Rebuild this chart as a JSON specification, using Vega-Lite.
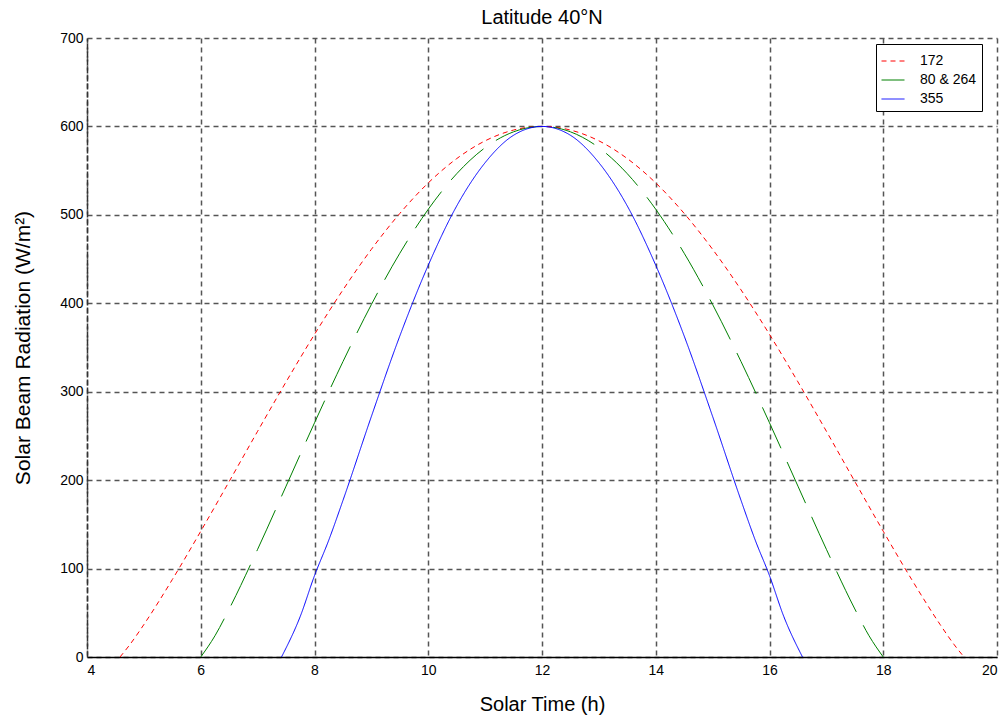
{
  "$schema": "https://vega.github.io/schema/vega-lite/v6.json",
  "width": 910,
  "height": 619,
  "autosize": {"type": "none"},
  "padding": {"left": 87, "top": 38, "right": 11, "bottom": 62},
  "background": "white",
  "title": {"text": "Latitude 40°N", "font": "Liberation Sans", "fontSize": 20, "fontWeight": "normal", "color": "#000", "anchor": "middle", "offset": 3},
  "data": {"values": [
    {"t": 4.58, "v": 0, "s": "172"}, {"t": 4.75, "v": 13.7, "s": "172"}, {"t": 5, "v": 36.7, "s": "172"}, {"t": 5.5, "v": 87.6, "s": "172"}, {"t": 6, "v": 142.2, "s": "172"}, {"t": 6.5, "v": 198.5, "s": "172"}, {"t": 7, "v": 255.3, "s": "172"}, {"t": 7.5, "v": 311.1, "s": "172"}, {"t": 8, "v": 364.8, "s": "172"}, {"t": 8.5, "v": 415.1, "s": "172"}, {"t": 9, "v": 461.0, "s": "172"}, {"t": 9.5, "v": 501.6, "s": "172"}, {"t": 10, "v": 536.1, "s": "172"}, {"t": 10.5, "v": 563.6, "s": "172"}, {"t": 11, "v": 583.7, "s": "172"}, {"t": 11.5, "v": 595.9, "s": "172"}, {"t": 12, "v": 600, "s": "172"},
    {"t": 12.5, "v": 595.9, "s": "172"}, {"t": 13, "v": 583.7, "s": "172"}, {"t": 13.5, "v": 563.6, "s": "172"}, {"t": 14, "v": 536.1, "s": "172"}, {"t": 14.5, "v": 501.6, "s": "172"}, {"t": 15, "v": 461.0, "s": "172"}, {"t": 15.5, "v": 415.1, "s": "172"}, {"t": 16, "v": 364.8, "s": "172"}, {"t": 16.5, "v": 311.1, "s": "172"}, {"t": 17, "v": 255.3, "s": "172"}, {"t": 17.5, "v": 198.5, "s": "172"}, {"t": 18, "v": 142.2, "s": "172"}, {"t": 18.5, "v": 87.6, "s": "172"}, {"t": 19, "v": 36.7, "s": "172"}, {"t": 19.25, "v": 13.7, "s": "172"}, {"t": 19.42, "v": 0, "s": "172"},
    {"t": 6, "v": 0, "s": "80 & 264"}, {"t": 6.25, "v": 24.0, "s": "80 & 264"}, {"t": 6.5, "v": 54.3, "s": "80 & 264"}, {"t": 7, "v": 121.8, "s": "80 & 264"}, {"t": 7.5, "v": 193.2, "s": "80 & 264"}, {"t": 8, "v": 264.8, "s": "80 & 264"}, {"t": 8.5, "v": 334.0, "s": "80 & 264"}, {"t": 9, "v": 398.6, "s": "80 & 264"}, {"t": 9.5, "v": 456.6, "s": "80 & 264"}, {"t": 10, "v": 506.3, "s": "80 & 264"}, {"t": 10.5, "v": 546.5, "s": "80 & 264"}, {"t": 11, "v": 576.0, "s": "80 & 264"}, {"t": 11.5, "v": 593.9, "s": "80 & 264"}, {"t": 12, "v": 600, "s": "80 & 264"},
    {"t": 12.5, "v": 593.9, "s": "80 & 264"}, {"t": 13, "v": 576.0, "s": "80 & 264"}, {"t": 13.5, "v": 546.5, "s": "80 & 264"}, {"t": 14, "v": 506.3, "s": "80 & 264"}, {"t": 14.5, "v": 456.6, "s": "80 & 264"}, {"t": 15, "v": 398.6, "s": "80 & 264"}, {"t": 15.5, "v": 334.0, "s": "80 & 264"}, {"t": 16, "v": 264.8, "s": "80 & 264"}, {"t": 16.5, "v": 193.2, "s": "80 & 264"}, {"t": 17, "v": 121.8, "s": "80 & 264"}, {"t": 17.5, "v": 54.3, "s": "80 & 264"}, {"t": 17.75, "v": 24.0, "s": "80 & 264"}, {"t": 18, "v": 0, "s": "80 & 264"},
    {"t": 7.42, "v": 0, "s": "355"}, {"t": 7.75, "v": 46, "s": "355"}, {"t": 8, "v": 92, "s": "355"}, {"t": 8.25, "v": 132, "s": "355"}, {"t": 8.5, "v": 177, "s": "355"}, {"t": 9, "v": 272, "s": "355"}, {"t": 9.5, "v": 363, "s": "355"}, {"t": 10, "v": 443, "s": "355"}, {"t": 10.5, "v": 510, "s": "355"}, {"t": 11, "v": 559, "s": "355"}, {"t": 11.5, "v": 590, "s": "355"}, {"t": 12, "v": 600, "s": "355"},
    {"t": 12.5, "v": 590, "s": "355"}, {"t": 13, "v": 559, "s": "355"}, {"t": 13.5, "v": 510, "s": "355"}, {"t": 14, "v": 443, "s": "355"}, {"t": 14.5, "v": 363, "s": "355"}, {"t": 15, "v": 272, "s": "355"}, {"t": 15.5, "v": 177, "s": "355"}, {"t": 15.75, "v": 132, "s": "355"}, {"t": 16, "v": 92, "s": "355"}, {"t": 16.25, "v": 46, "s": "355"}, {"t": 16.58, "v": 0, "s": "355"}
  ]},
  "mark": {"type": "line", "interpolate": "monotone", "strokeWidth": 1, "clip": true},
  "encoding": {
    "x": {"field": "t", "type": "quantitative", "title": "Solar Time (h)",
      "scale": {"domain": [4, 20], "nice": false, "zero": false},
      "axis": {"values": [4, 6, 8, 10, 12, 14, 16, 18, 20], "grid": true, "gridDash": [5, 4], "gridColor": "#555", "gridWidth": 1.5, "ticks": false, "domain": true, "domainColor": "#000", "domainWidth": 1.5, "labelPadding": 6, "labelFont": "Liberation Sans", "labelFontSize": 14, "labelColor": "#000", "titleFont": "Liberation Sans", "titleFontSize": 20, "titleFontWeight": "normal", "titleColor": "#000", "titlePadding": 17}},
    "y": {"field": "v", "type": "quantitative", "title": "Solar Beam Radiation (W/m²)",
      "scale": {"domain": [0, 700], "nice": false},
      "axis": {"values": [0, 100, 200, 300, 400, 500, 600, 700], "grid": true, "gridDash": [5, 4], "gridColor": "#555", "gridWidth": 1.5, "ticks": false, "domain": true, "domainColor": "#333", "domainWidth": 1.5, "domainDash": [6, 2], "labelPadding": 4, "labelFont": "Liberation Sans", "labelFontSize": 14, "labelColor": "#000", "titleFont": "Liberation Sans", "titleFontSize": 21, "titleFontWeight": "normal", "titleColor": "#000", "titlePadding": 26}},
    "color": {"field": "s", "type": "nominal", "title": null,
      "scale": {"domain": ["172", "80 & 264", "355"], "range": ["#ff0000", "#008000", "#0000ff"]},
      "legend": {"orient": "none", "legendX": 789, "legendY": 6, "symbolType": "stroke", "symbolSize": 529, "symbolStrokeWidth": 1, "labelFont": "Liberation Sans", "labelFontSize": 14, "labelColor": "#000", "strokeColor": "#000", "fillColor": "#fff", "padding": 5, "rowPadding": -10, "labelOffset": 15, "titlePadding": 0}},
    "strokeDash": {"field": "s", "type": "nominal", "title": null,
      "scale": {"domain": ["172", "80 & 264", "355"], "range": [[5, 4], [45, 15], [1, 0]]}}
  },
  "config": {"view": {"stroke": null}}
}
